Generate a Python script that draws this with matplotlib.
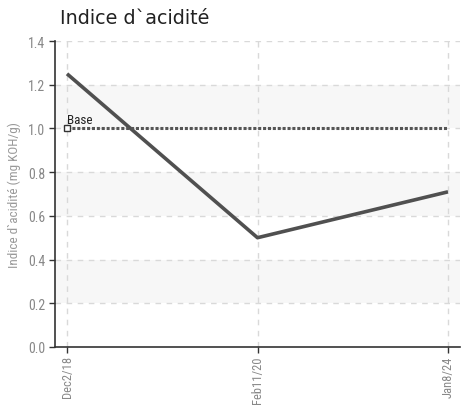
import matplotlib
matplotlib.use("Agg")
import matplotlib.pyplot as plt

dates = ["Dec2/18", "Feb11/20", "Jan8/24"]
values = [1.25, 0.50, 0.71]
base_value = 1.0
base_label = "Base"
yticks = [0.0, 0.2, 0.4, 0.6, 0.8, 1.0, 1.2, 1.4]
title = "Indice d`acidité"
ylabel = "Indice d`acidité (mg KOH/g)"

narrow = ["Roboto Condensed", "DejaVu Sans"]

fig = plt.figure(figsize=(4.69, 4.06), dpi=100)
ax = fig.add_axes([55/469, 1-348/406, 405/469, 306/406])

x = list(range(len(dates)))
ax.set_xlim(-0.063, len(dates) - 1 + 0.063)
ax.set_ylim(0, 1.4)

# alternating bands
for lo in [0.2, 0.6, 1.0]:
    ax.axhspan(lo, lo + 0.2, color="#f7f7f7", zorder=0, lw=0)

for yv in yticks[1:]:
    ax.axhline(yv, color="#d9d9d9", lw=1, ls=(0, (4, 4)), zorder=1)
for xv in x:
    ax.axvline(xv, color="#d9d9d9", lw=1, ls=(0, (4, 4)), zorder=1)

ax.plot(x, values, color="#505050", lw=2.6, zorder=3, solid_capstyle="butt")
ax.plot([x[0], x[-1]], [base_value, base_value], color="#555555", lw=2.2,
        ls=(0, (1, 0.6)), zorder=3)
ax.plot([x[0]], [base_value], marker="s", ms=4, mfc="white", mec="#333333",
        mew=1, zorder=4)
ax.text(x[0], base_value + 0.012, base_label, fontsize=9.5, family=narrow,
        color="#222222", va="bottom", ha="left")

for s in ["top", "right"]:
    ax.spines[s].set_visible(False)
for s in ["left", "bottom"]:
    ax.spines[s].set_color("#333333")
    ax.spines[s].set_linewidth(1.2)

ax.set_yticks(yticks)
ax.set_yticklabels([f"{v:.1f}" for v in yticks], family=narrow, fontsize=10,
                   color="#888888")
ax.set_xticks(x)
ax.set_xticklabels(dates, rotation=90, family=narrow, fontsize=9,
                   color="#888888")
ax.tick_params(axis="both", length=4, color="#333333", width=1, pad=3)
ax.tick_params(axis="x", pad=2)
ax.set_ylabel(ylabel, family=narrow, fontsize=9.5, color="#999999", labelpad=5)

fig.text(60/469, 1-18/406, title, fontsize=13.8, color="#222222",
         va="center", ha="left")

fig.savefig("out.png", dpi=100)
